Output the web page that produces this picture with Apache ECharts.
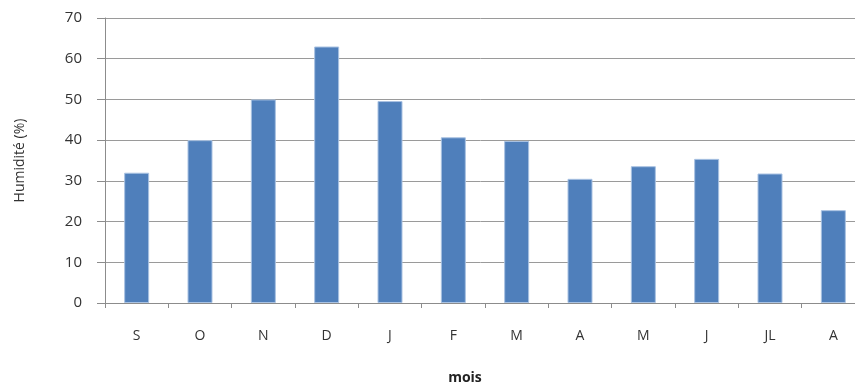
<!DOCTYPE html>
<html><head><meta charset="utf-8">
<script src="https://cdn.jsdelivr.net/npm/echarts@6/dist/echarts.min.js"></script>
<style>html,body{margin:0;padding:0;background:#fff}#c{width:855px;height:385px}</style>
</head><body><div id="c"></div>
<script>
var categories = ['S','O','N','D','J','F','M','A','M','J','JL','A'];
var humidity = [32, 40, 50, 63, 49.6, 40.7, 39.8, 30.5, 33.6, 35.4, 31.8, 22.8];
var yTicks = {min: 0, max: 70, interval: 10};

var chart = echarts.init(document.getElementById('c'), null, {renderer: 'canvas'});
chart.setOption({
  animation: false,
  backgroundColor: '#ffffff',
  grid: {left: 105, top: 18, width: 760, height: 285, containLabel: false, outerBoundsMode: 'none'},
  xAxis: {
    type: 'category',
    data: categories,
    name: 'mois',
    nameLocation: 'middle',
    nameGap: 68,
    nameTextStyle: {fontFamily: 'Open Sans', fontSize: 14, fontWeight: 'bold', color: '#222', padding: [0, 40, 0, 0]},
    axisLine: {lineStyle: {color: '#8c8c8c', width: 1}},
    axisTick: {show: true, alignWithLabel: false, length: 5, lineStyle: {color: '#8c8c8c'}},
    axisLabel: {margin: 26, fontFamily: 'Open Sans', fontSize: 14, color: '#333'}
  },
  yAxis: {
    type: 'value',
    min: yTicks.min, max: yTicks.max, interval: yTicks.interval,
    name: 'Humidité (%)',
    nameLocation: 'middle',
    nameGap: 78,
    nameTextStyle: {fontFamily: 'Open Sans', fontSize: 14, color: '#333'},
    axisLine: {show: true, lineStyle: {color: '#8c8c8c', width: 1}},
    axisTick: {show: true, length: 8, lineStyle: {color: '#8c8c8c'}},
    axisLabel: {margin: 23, fontFamily: 'Open Sans', fontSize: 15, color: '#333'},
    splitLine: {show: true, lineStyle: {color: '#9a9a9a', width: 1}}
  },
  series: [{
    type: 'bar',
    data: humidity,
    barWidth: 25,
    itemStyle: {color: '#4f7fbb', borderColor: '#a9c2e2', borderWidth: 1}
  }]
});
</script></body></html>
